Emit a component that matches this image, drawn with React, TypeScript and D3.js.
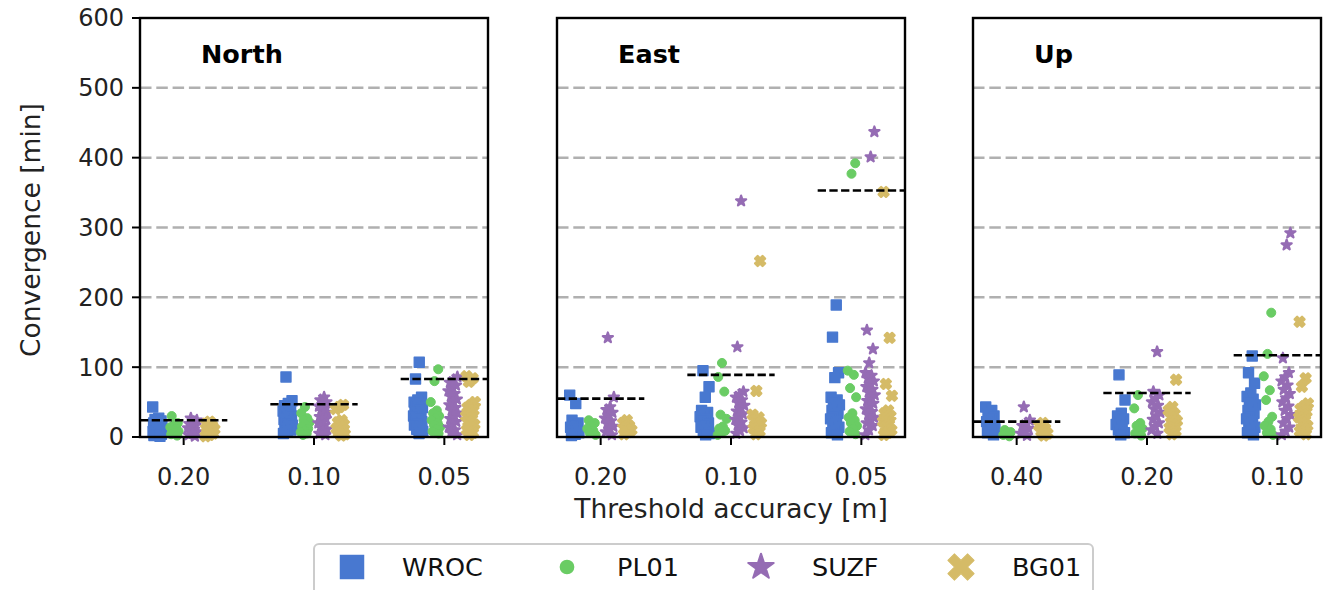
import * as d3 from "d3";

// Station order and colours (seaborn "muted")
const stations = ["WROC", "PL01", "SUZF", "BG01"];
const stationColors = ["#4878d0", "#6acc64", "#956cb4", "#d5bb67"];

const yTicks = [0, 100, 200, 300, 400, 500, 600];
const gridValues = [100, 200, 300, 400, 500];

// North component
const northTicks = ["0.20", "0.10", "0.05"];
const northMean = [24, 47, 83];
const northWROC = [
    [43, 27, 25, 23, 21, 20, 18, 17, 15, 14, 12, 10, 9, 8, 6, 5, 4, 3, 2, 1],
    [86, 52, 48, 45, 42, 40, 37, 35, 32, 30, 28, 25, 22, 20, 17, 15, 12, 10, 8, 5],
    [107, 83, 57, 53, 50, 47, 45, 42, 40, 37, 35, 32, 30, 27, 25, 22, 20, 17, 14, 11, 8, 5],
];
const northPL01 = [
    [30, 20, 17, 14, 12, 10, 8, 6, 4, 2],
    [43, 34, 27, 24, 21, 18, 15, 12, 9, 7, 5, 3],
    [97, 80, 50, 38, 34, 30, 27, 24, 20, 17, 14, 11, 8, 5],
];
const northSUZF = [
    [27, 24, 22, 19, 17, 15, 13, 11, 9, 7, 5, 3, 1],
    [57, 53, 50, 47, 44, 41, 38, 35, 32, 29, 26, 23, 20, 17, 14, 11, 8, 5, 3],
    [86, 82, 78, 74, 70, 66, 62, 58, 54, 50, 46, 42, 38, 34, 30, 26, 22, 18, 14, 10, 6, 3],
];
const northBG01 = [
    [22, 19, 16, 13, 11, 9, 7, 5, 3, 1],
    [46, 43, 40, 24, 21, 18, 15, 12, 9, 6, 4, 2],
    [87, 84, 79, 50, 46, 42, 38, 34, 30, 26, 22, 18, 14, 10, 6, 3],
];

// East component
const eastTicks = ["0.20", "0.10", "0.05"];
const eastMean = [55, 89, 353];
const eastWROC = [
    [60, 48, 24, 20, 17, 14, 11, 8, 6, 4, 2],
    [95, 72, 57, 38, 35, 32, 29, 26, 23, 20, 17, 14, 11, 8, 5, 3],
    [189, 143, 92, 85, 57, 53, 50, 46, 42, 38, 34, 30, 26, 22, 18, 14, 10, 6, 3],
];
const eastPL01 = [
    [24, 20, 16, 12, 9, 6, 3],
    [106, 86, 65, 32, 26, 15, 12, 9, 6, 3],
    [392, 377, 95, 89, 70, 57, 34, 28, 24, 20, 16, 12, 8, 4],
];
const eastSUZF = [
    [142, 57, 43, 39, 35, 31, 27, 23, 19, 15, 11, 7, 3],
    [338, 129, 65, 61, 57, 53, 49, 45, 41, 37, 33, 29, 25, 21, 17, 13, 9, 5],
    [437, 401, 153, 126, 106, 92, 88, 84, 80, 76, 72, 68, 64, 60, 56, 52, 48, 44, 40, 36, 32, 28, 24, 20, 16, 10, 3],
];
const eastBG01 = [
    [24, 20, 16, 13, 10, 7, 4],
    [252, 66, 32, 28, 24, 20, 16, 12, 8, 4],
    [351, 142, 76, 59, 38, 34, 30, 26, 22, 18, 14, 10, 6, 3],
];

// Up component
const upTicks = ["0.40", "0.20", "0.10"];
const upMean = [22, 63, 117];
const upWROC = [
    [43, 38, 34, 30, 26, 22, 18, 15, 12, 9, 6, 3],
    [89, 53, 34, 30, 26, 22, 18, 14, 10, 6, 3],
    [116, 92, 77, 63, 58, 54, 50, 46, 42, 38, 34, 30, 26, 22, 18, 14, 10, 6, 3],
];
const upPL01 = [
    [10, 7, 5, 3, 1],
    [60, 41, 20, 16, 12, 8, 5, 2],
    [178, 119, 87, 67, 53, 29, 22, 16, 11, 6, 3],
];
const upSUZF = [
    [43, 24, 20, 16, 12, 8, 5, 2],
    [122, 65, 60, 55, 50, 45, 40, 35, 30, 25, 20, 15, 10, 5],
    [292, 275, 113, 92, 86, 80, 74, 68, 62, 56, 50, 44, 38, 32, 26, 20, 14, 8, 3],
];
const upBG01 = [
    [20, 16, 12, 8, 5, 2],
    [82, 43, 38, 33, 28, 23, 18, 13, 8, 4],
    [165, 84, 72, 48, 44, 40, 36, 32, 28, 24, 20, 16, 12, 8, 4],
];

const panels = [
    { title: "North", ticks: northTicks, mean: northMean, series: [northWROC, northPL01, northSUZF, northBG01] },
    { title: "East", ticks: eastTicks, mean: eastMean, series: [eastWROC, eastPL01, eastSUZF, eastBG01] },
    { title: "Up", ticks: upTicks, mean: upMean, series: [upWROC, upPL01, upSUZF, upBG01] },
];

const WIDTH = 1332;
const HEIGHT = 590;
const panelLefts = [140, 557, 973];
const panelWidth = 348;
const plotTop = 18;
const plotBottom = 437;
const font = "'DejaVu Sans', sans-serif";
const fontSize = 24;
const labelSize = 26.5;

// dodge offsets for the four stations
const dodge = [-0.2, -0.067, 0.067, 0.2];

const symbolTypes = [d3.symbolSquare, d3.symbolCircle, d3.symbolStar, d3.symbolCross];
const symbolSizes = [100, 64, 32, 60];
const symbolStroke = [1.4, 1, 2.2, 2.4];
const legendSizes = [600, 170, 200, 430];
const legendStroke = [0, 0, 2, 1];

function markerPath(k: number, size: number) {
    return d3.symbol().type(symbolTypes[k]).size(size)() as string;
}

function Panel({ p, left, showY }: any) {
    const x = d3.scaleLinear().domain([-0.335, 2.335]).range([left, left + panelWidth]);
    const y = d3.scaleLinear().domain([0, 600]).range([plotBottom, plotTop]);

    const marks: any[] = [];
    p.series.forEach((byCat: number[][], k: number) => {
        byCat.forEach((vals, c) => {
            vals.forEach((v, i) => {
                // deterministic strip jitter
                const jit = (((i * 0.618034 + c * 0.3 + k * 0.17) % 1) - 0.5) * 0.075;
                const cx = x(c + dodge[k] + jit);
                const cy = y(v);
                marks.push(
                    <path key={`${k}-${c}-${i}`}
                        d={markerPath(k, symbolSizes[k])}
                        transform={`translate(${cx},${cy})${k === 3 ? " rotate(45)" : ""}`}
                        fill={stationColors[k]} stroke={stationColors[k]}
                        strokeWidth={symbolStroke[k]} strokeLinejoin="round" />
                );
            });
        });
    });

    return (
        <g>
            {gridValues.map(g => (
                <line key={g} x1={left} x2={left + panelWidth} y1={y(g)} y2={y(g)}
                    stroke="#b0b0b0" strokeWidth={2.5} strokeDasharray="11.5,4.8" />
            ))}
            {marks}
            {p.mean.map((m: number, c: number) => (
                <line key={"m" + c} x1={x(c - 0.335)} x2={x(c + 0.335)} y1={y(m)} y2={y(m)}
                    stroke="#000" strokeWidth={2.6} strokeDasharray="8.3,3.4" />
            ))}
            <rect x={left} y={plotTop} width={panelWidth} height={plotBottom - plotTop}
                fill="none" stroke="#000" strokeWidth={2.4} />
            {p.ticks.map((t: string, c: number) => (
                <g key={t}>
                    <line x1={x(c)} x2={x(c)} y1={plotBottom} y2={plotBottom + 8} stroke="#000" strokeWidth={2} />
                    <text x={x(c)} y={485} textAnchor="middle" fontSize={fontSize} fontFamily={font} fill="#222">{t}</text>
                </g>
            ))}
            {showY && yTicks.map(t => (
                <g key={"y" + t}>
                    <line x1={left - 8} x2={left} y1={y(t)} y2={y(t)} stroke="#000" strokeWidth={2} />
                    <text x={left - 16} y={y(t)} dy="0.35em" textAnchor="end" fontSize={fontSize} fontFamily={font} fill="#222">{t}</text>
                </g>
            ))}
            <text x={left + 61} y={63} fontSize={25.5} fontWeight="bold" fontFamily={font} fill="#000">{p.title}</text>
        </g>
    );
}

function Legend() {
    const markerX = [352, 567, 761, 961];
    const textX = [402, 617, 812, 1012];
    return (
        <g>
            <rect x={314} y={544} width={779} height={52} rx={5} fill="#fff" stroke="#cccccc" strokeWidth={2} />
            {stations.map((s, k) => (
                <g key={s}>
                    <path d={markerPath(k, legendSizes[k])}
                        transform={`translate(${markerX[k]},567)${k === 3 ? " rotate(45)" : ""}`}
                        fill={stationColors[k]} stroke={stationColors[k]}
                        strokeWidth={legendStroke[k]} strokeLinejoin="round" />
                    <text x={textX[k]} y={576} fontSize={25.5} fontFamily={font} fill="#111">{s}</text>
                </g>
            ))}
        </g>
    );
}

export default function App() {
    return (
        <svg width={WIDTH} height={HEIGHT} style={{ position: "absolute", left: 0, top: 0, background: "#fff" }}>
            {panels.map((p, i) => (
                <Panel key={p.title} p={p} left={panelLefts[i]} showY={i === 0} />
            ))}
            <text x={731} y={518} textAnchor="middle" fontSize={labelSize} fontFamily={font} fill="#222">Threshold accuracy [m]</text>
            <text transform="translate(40,230) rotate(-90)" textAnchor="middle" fontSize={labelSize} fontFamily={font} fill="#222">Convergence [min]</text>
            <Legend />
        </svg>
    );
}
